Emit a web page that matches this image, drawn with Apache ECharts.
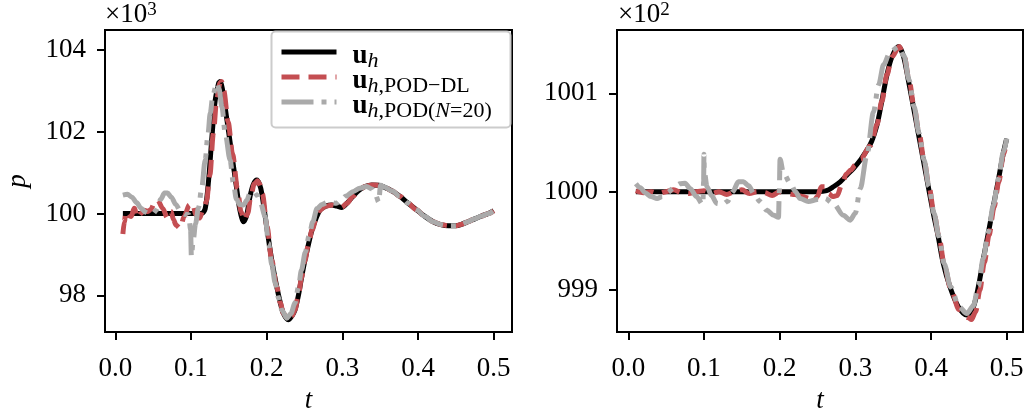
<!DOCTYPE html>
<html>
<head>
<meta charset="utf-8">
<script src="https://cdn.jsdelivr.net/npm/echarts@6/dist/echarts.min.js"></script>
<style>
html,body{margin:0;padding:0;background:#fff;}
#chart{width:1026px;height:414px;}
</style>
</head>
<body>
<div id="chart"></div>
<script>
// ---------- tick labels ----------
const xTicks = [0, 0.1, 0.2, 0.3, 0.4, 0.5];
const yTicksL = [98, 100, 102, 104];
const yTicksR = [999, 1000, 1001];

// ---------- left panel (x10^3) ----------
const tUhL = [0.01,0.05,0.09,0.108,0.114,0.1188,0.1233,0.1277,0.132,0.1365,0.1387,0.1415,0.1475,0.1537,0.160,0.1645,0.1695,0.1735,0.178,0.1825,0.187,0.1905,0.1935,0.200,0.2066,0.2132,0.218,0.222,0.2285,0.2335,0.2374,0.242,0.246,0.2505,0.2553,0.260,0.2663,0.2707,0.278,0.286,0.293,0.299,0.306,0.314,0.322,0.330,0.339,0.348,0.356,0.366,0.376,0.387,0.398,0.409,0.420,0.430,0.440,0.450,0.458,0.466,0.475,0.484,0.493,0.500];
const pUhL = [100,100,100,100,100.0,100.12,100.82,101.88,102.77,103.19,103.23,103.05,102.29,101.48,100.66,100.1,99.80,99.95,100.42,100.72,100.82,100.72,100.50,99.68,98.87,98.22,97.82,97.56,97.40,97.5,97.64,98.0,98.42,98.85,99.25,99.6,99.93,100.09,100.18,100.21,100.18,100.15,100.25,100.42,100.57,100.66,100.70,100.69,100.64,100.55,100.42,100.25,100.09,99.93,99.80,99.73,99.70,99.70,99.74,99.80,99.87,99.94,100.0,100.07];

const tDlL = [0.01,0.012,0.014,0.017,0.021,0.025,0.0295,0.034,0.038,0.043,0.047,0.0515,0.056,0.0625,0.069,0.0735,0.077,0.080,0.0857,0.091,0.0978,0.102,0.1066,0.111,0.1175,0.1205,0.125,0.1295,0.134,0.1385,0.1405,0.1435,0.149,0.155,0.1615,0.166,0.1705,0.175,0.179,0.1835,0.188,0.1915,0.1945,0.2005,0.2066,0.2132,0.218,0.222,0.2285,0.2335,0.2374,0.242,0.246,0.2505,0.2553,0.260,0.2663,0.2707,0.278,0.286,0.293,0.299,0.306,0.314,0.322,0.330,0.339,0.348,0.356,0.366,0.376,0.387,0.398,0.409,0.420,0.430,0.440,0.450,0.458,0.466,0.475,0.484,0.493,0.500];
const pDlL = [99.5,99.8,100.05,99.95,99.93,100.13,99.89,100.0,100.08,100.05,100.1,100.25,100.33,100.13,99.89,100.05,99.85,99.72,99.64,99.93,100.21,100.25,99.97,99.89,100.17,100.3,100.95,101.95,102.8,103.2,103.23,103.0,102.25,101.45,100.6,100.05,99.83,100.0,100.42,100.72,100.8,100.7,100.48,99.68,98.87,98.22,97.82,97.56,97.40,97.5,97.64,98.0,98.42,98.85,99.25,99.6,99.93,100.09,100.18,100.21,100.18,100.15,100.25,100.42,100.57,100.66,100.70,100.69,100.64,100.55,100.42,100.25,100.09,99.93,99.80,99.73,99.70,99.70,99.74,99.80,99.87,99.94,100.0,100.07];

const tPodL = [0.01,0.016,0.022,0.028,0.034,0.040,0.045,0.050,0.055,0.060,0.065,0.069,0.074,0.080,0.086,0.092,0.097,0.0995,0.1005,0.103,0.106,0.110,0.114,0.1188,0.1225,0.1254,0.129,0.134,0.137,0.141,0.1453,0.1517,0.156,0.160,0.1645,0.1695,0.174,0.178,0.1826,0.187,0.192,0.198,0.2025,0.2068,0.2113,0.216,0.220,0.2266,0.232,0.2374,0.242,0.246,0.251,0.256,0.261,0.2665,0.273,0.280,0.286,0.292,0.298,0.305,0.3147,0.323,0.332,0.339,0.344,0.348,0.3505,0.356,0.366,0.376,0.387,0.398,0.409,0.420,0.430,0.440,0.450,0.458,0.466,0.475,0.484,0.493,0.500];
const pPodL = [100.45,100.47,100.40,100.27,100.13,100.03,99.99,100.0,100.1,100.35,100.5,100.5,100.4,100.22,100.06,99.98,99.97,99.6,98.95,99.35,99.75,100.15,100.6,101.31,101.95,102.45,102.9,103.19,103.05,102.6,101.95,101.31,100.75,100.35,100.22,100.21,100.33,100.5,100.54,100.45,100.25,99.93,99.27,98.75,98.3,97.92,97.64,97.44,97.55,97.81,98.2,98.62,99.05,99.45,99.8,100.12,100.22,100.27,100.26,100.25,100.33,100.43,100.54,100.62,100.66,100.6,100.45,100.28,100.69,100.64,100.55,100.42,100.25,100.09,99.93,99.80,99.73,99.70,99.70,99.74,99.80,99.87,99.94,100.0,100.07];

// ---------- right panel (x10^2) ----------
const tUhR = [0.01,0.1,0.2,0.25,0.262,0.271,0.28,0.289,0.298,0.3065,0.3197,0.3286,0.335,0.3418,0.3484,0.357,0.3635,0.370,0.3766,0.3832,0.3898,0.3964,0.403,0.4096,0.4162,0.4251,0.436,0.4472,0.456,0.4625,0.469,0.4757,0.4823,0.489,0.4955,0.500];
const pUhR = [1000,1000,1000,1000,1000.01,1000.05,1000.1,1000.17,1000.24,1000.32,1000.48,1000.68,1000.92,1001.19,1001.37,1001.475,1001.38,1001.135,1000.865,1000.594,1000.322,1000.05,999.78,999.54,999.27,999.03,998.83,998.745,998.83,999.03,999.31,999.58,999.85,1000.12,1000.39,1000.54];

const tDlR = [0.01,0.02,0.03,0.04,0.05,0.06,0.07,0.08,0.09,0.1,0.11,0.12,0.13,0.14,0.15,0.16,0.17,0.18,0.19,0.2,0.21,0.22,0.23,0.24,0.245,0.25,0.255,0.26,0.265,0.27,0.276,0.282,0.288,0.294,0.30,0.307,0.32,0.3286,0.335,0.3418,0.3484,0.358,0.3645,0.371,0.3776,0.3842,0.3908,0.3974,0.404,0.4106,0.4172,0.4261,0.437,0.449,0.4535,0.459,0.4645,0.4705,0.4767,0.4833,0.4895,0.4958,0.500];
const pDlR = [1000.01,999.99,1000.0,999.98,1000.0,1000.02,999.99,999.98,1000.0,1000.01,999.98,1000.0,999.97,1000.0,1000.02,999.98,1000.0,999.99,999.96,1000.0,999.98,999.97,999.95,999.93,999.9,999.95,1000.05,1000.05,999.98,999.95,999.96,1000.07,1000.18,1000.22,1000.27,1000.33,1000.47,1000.68,1000.92,1001.19,1001.37,1001.475,1001.38,1001.135,1000.865,1000.594,1000.322,1000.05,999.78,999.54,999.27,999.01,998.8,998.72,998.70,998.78,999.0,999.28,999.56,999.84,1000.1,1000.38,1000.52];

const tPodR = [0.01,0.016,0.022,0.03,0.038,0.045,0.052,0.06,0.068,0.075,0.082,0.09,0.0985,0.0995,0.1,0.1005,0.104,0.110,0.117,0.124,0.131,0.138,0.1455,0.152,0.159,0.166,0.174,0.183,0.192,0.1985,0.1995,0.2005,0.205,0.214,0.221,0.227,0.238,0.25,0.26,0.271,0.284,0.2933,0.2999,0.3065,0.3153,0.324,0.3307,0.3373,0.346,0.357,0.3645,0.371,0.3776,0.3842,0.3908,0.3974,0.404,0.4106,0.4172,0.4261,0.437,0.4472,0.456,0.4625,0.469,0.4757,0.4823,0.489,0.4955,0.500];
const pPodR = [1000.08,1000.04,999.99,999.95,999.93,999.95,999.99,1000.04,1000.08,1000.085,1000.03,999.95,999.87,1000.1,1000.38,1000.2,1000.05,999.96,999.88,999.87,999.9,1000.0,1000.1,1000.1,1000.06,999.98,999.9,999.81,999.76,999.74,1000.0,1000.33,1000.19,1000.085,1000.0,999.93,999.9,999.92,999.93,999.88,999.76,999.71,999.78,1000.03,1000.37,1000.81,1001.085,1001.29,1001.42,1001.475,1001.38,1001.135,1000.865,1000.594,1000.322,1000.05,999.78,999.54,999.27,999.03,998.83,998.76,998.84,999.04,999.32,999.59,999.86,1000.13,1000.4,1000.54];

// ---------- styling ----------
const SERIF = '"Liberation Serif", "DejaVu Serif", serif';
const RED = '#c44e52';
const GREY = '#aaaaaa';
const zip = (t, p) => t.map((v, i) => [v, p[i]]);

function xAxisDef(gridIndex, min, max) {
  return {
    type: 'value', gridIndex, min, max,
    name: 't', nameLocation: 'middle', nameGap: 55,
    nameTextStyle: { fontFamily: SERIF, fontStyle: 'italic', fontSize: 27, color: '#000' },
    axisLine: { show: false, onZero: false },
    splitLine: { show: false },
    axisTick: { show: true, inside: false, length: 8, customValues: xTicks, lineStyle: { color: '#000', width: 2 } },
    axisLabel: { customValues: xTicks, formatter: v => v.toFixed(1), fontFamily: SERIF, fontSize: 27, color: '#000', margin: 23 }
  };
}
function yAxisDef(gridIndex, min, max, ticks, name) {
  return {
    type: 'value', gridIndex, min, max,
    name: name || '', nameLocation: 'middle', nameGap: 74, nameRotate: 90,
    nameTextStyle: { fontFamily: SERIF, fontStyle: 'italic', fontSize: 27, color: '#000' },
    axisLine: { show: false, onZero: false },
    splitLine: { show: false },
    axisTick: { show: true, inside: false, length: 8, customValues: ticks, lineStyle: { color: '#000', width: 2 } },
    axisLabel: { customValues: ticks, formatter: v => String(v), fontFamily: SERIF, fontSize: 27, color: '#000', margin: 19 }
  };
}
function lineSeries(name, xi, data, color, type, z, mono) {
  return {
    name, type: 'line', xAxisIndex: xi, yAxisIndex: xi, data,
    showSymbol: false, symbol: 'none', smooth: 0.3, smoothMonotone: mono ? 'x' : null,
    lineStyle: { color, width: 5, type, cap: 'butt' }, itemStyle: { color },
    z, animation: false, silent: true
  };
}

const chart = echarts.init(document.getElementById('chart'), null, { renderer: 'canvas' });
chart.setOption({
  animation: false,
  backgroundColor: '#fff',
  grid: [
    { left: 105, top: 30, width: 407, height: 302, show: true, borderColor: '#000', borderWidth: 2, backgroundColor: 'transparent', containLabel: false, outerBoundsMode: 'none' },
    { left: 617, top: 30, width: 406, height: 302, show: true, borderColor: '#000', borderWidth: 2, backgroundColor: 'transparent', containLabel: false, outerBoundsMode: 'none' }
  ],
  xAxis: [ xAxisDef(0, -0.01361, 0.52418), xAxisDef(1, -0.01493, 0.52154) ],
  yAxis: [ yAxisDef(0, 97.102, 104.489, yTicksL, 'p'), yAxisDef(1, 998.573, 1001.6436, yTicksR, '') ],
  legend: {
    orient: 'vertical', left: 271, top: 31,
    padding: [1, 8, 0, 8], itemGap: -15, itemWidth: 55, itemHeight: 20,
    data: ['uh', 'dl', 'pod'],
    itemStyle: { opacity: 0 },
    lineStyle: { width: 5 },
    selectedMode: false,
    formatter: function (n) {
      if (n === 'uh') return '{b|u}{si|h}';
      if (n === 'dl') return '{b|u}{si|h}{s|,POD\u2212DL}';
      return '{b|u}{si|h}{s|,POD(}{si|N}{s|=20)}';
    },
    textStyle: {
      fontFamily: SERIF, color: '#000',
      rich: {
        b: { fontFamily: SERIF, fontWeight: 'bold', fontSize: 27, lineHeight: 40, verticalAlign: 'top', color: '#000', padding: [11, 0, 0, 11] },
        si: { fontFamily: SERIF, fontStyle: 'italic', fontSize: 22, lineHeight: 10, verticalAlign: 'bottom', color: '#000' },
        s: { fontFamily: SERIF, fontSize: 22, lineHeight: 10, verticalAlign: 'bottom', color: '#000' }
      }
    }
  },
  graphic: [
    { type: 'rect', shape: { x: 271.5, y: 31.5, width: 239, height: 96, r: 4 }, style: { fill: 'rgba(255,255,255,0.8)', stroke: '#cccccc', lineWidth: 2 }, z: 3, silent: true },
    { type: 'text', x: 105, y: 29, style: { text: '{a|\u00d710}{s|3}', verticalAlign: 'bottom', rich: { a: { fontFamily: SERIF, fontSize: 27, lineHeight: 28, fill: '#000' }, s: { fontFamily: SERIF, fontSize: 19, lineHeight: 8, verticalAlign: 'top', fill: '#000' } } }, silent: true },
    { type: 'text', x: 618, y: 29, style: { text: '{a|\u00d710}{s|2}', verticalAlign: 'bottom', rich: { a: { fontFamily: SERIF, fontSize: 27, lineHeight: 28, fill: '#000' }, s: { fontFamily: SERIF, fontSize: 19, lineHeight: 8, verticalAlign: 'top', fill: '#000' } } }, silent: true }
  ],
  series: [
    lineSeries('uh', 0, zip(tUhL, pUhL), '#000', 'solid', 2, false),
    lineSeries('dl', 0, zip(tDlL, pDlL), RED, [18, 9], 3, true),
    lineSeries('pod', 0, zip(tPodL, pPodL), GREY, [32, 8, 5, 8], 4, true),
    lineSeries('uh', 1, zip(tUhR, pUhR), '#000', 'solid', 2, false),
    lineSeries('dl', 1, zip(tDlR, pDlR), RED, [18, 9], 3, true),
    lineSeries('pod', 1, zip(tPodR, pPodR), GREY, [32, 8, 5, 8], 4, true)
  ]
});
</script>
</body>
</html>
